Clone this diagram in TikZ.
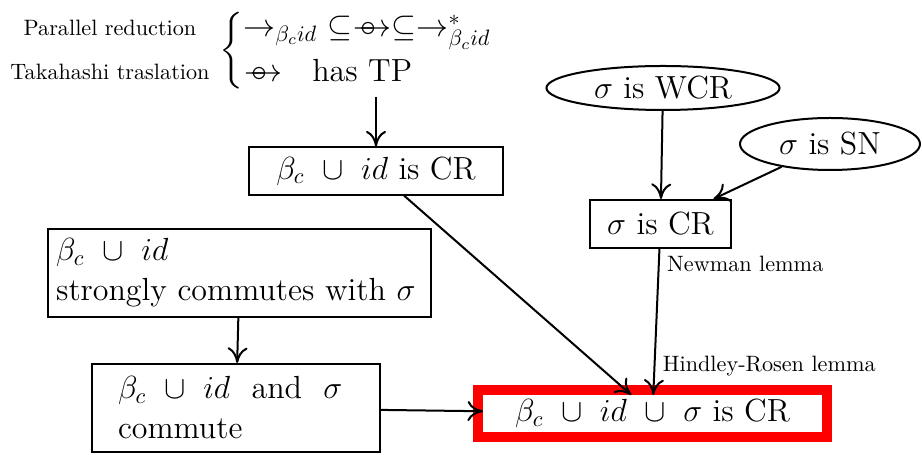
\documentclass[tikz,border=0pt]{standalone}
\usepackage{amsmath}
\usetikzlibrary{positioning, arrows.meta, shapes.geometric}

\newcommand{\tkarrow}{\mathrel{\mbox{\ooalign{$\relbar\mkern-10mu\rightarrow$\cr$\mkern4.5mu\circ$\hidewidth\cr}}}}

\begin{document}
\begin{tikzpicture}[
        x=0.45pt, y=-0.45pt,
        box/.style={draw, line width=0.9pt, rectangle, font=\Large, inner sep=2pt},
        oval/.style={draw, line width=0.9pt, ellipse, font=\Large, inner sep=1pt},
        goal/.style={draw=red, line width=4.5pt, rectangle, font=\Large, outer sep=-2.25pt},
        arrow/.style={-{To[length=7pt,width=9pt]}, line width=0.9pt},
        lemma/.style={right, font=\normalsize}
    ]
    \useasboundingbox (0,0) rectangle (922,455);

    % Properties of the reductions
    \node (parlbl) at (110,28) {Parallel reduction};
    \node (takalbl) at (110,72) {Takahashi traslation};
    \node[anchor=west, inner xsep=0pt, inner ysep=1.5pt, font=\Large] (tp) at (219,51)
        {$\left\{\begin{array}{@{}l@{}}
            \to_{\beta_c id}\ \subseteq\tkarrow\subseteq\to^{*}_{\beta_c id}\\[2pt]
            \tkarrow\ \ \text{has TP}
        \end{array}\right.$};

    % Nodes
    \node[box, minimum width=113.9pt, minimum height=21.2pt] (crid) at (376,171) {$\beta_c\ \cup\ id$ is CR};
    \node[oval, minimum width=104.9pt, minimum height=19.8pt] (wcr) at (663,88) {$\sigma$ is WCR};
    \node[oval, minimum width=81pt, minimum height=23.4pt] (sn) at (830,144) {$\sigma$ is SN};
    \node[box, minimum width=63.5pt, minimum height=21.6pt] (scr) at (660.5,224) {$\sigma$ is CR};
    \node[box, text width=165pt, inner xsep=3.7pt, minimum height=39.6pt, align=left] (scom) at (239.5,273)
        {$\beta_c\ \cup\ id$\\strongly commutes with $\sigma$};
    \node[box, text width=106.2pt, inner xsep=11.7pt, minimum height=39.6pt, align=left] (comm) at (236,408)
        {$\beta_c\ \cup\ id$ \ and \ $\sigma$\\commute};
    \node[goal, minimum width=157pt, minimum height=21.2pt] (allcr) at (652.5,413.5) {$\beta_c\ \cup\ id\ \cup\ \sigma$ is CR};

    % Arrows
    \draw[arrow] (tp.south -| crid.north) -- (crid.north);
    \draw[arrow] (wcr) -- (scr);
    \draw[arrow] (sn) -- (scr);
    \draw[arrow] (crid) -- (allcr);
    \draw[arrow] (scr) -- node[lemma, pos=0.1] {Newman lemma} node[lemma, pos=0.8] {Hindley-Rosen lemma} (allcr);
    \draw[arrow] (scom) -- (comm);
    \draw[arrow] (comm) -- (allcr);

\end{tikzpicture}
\end{document}
